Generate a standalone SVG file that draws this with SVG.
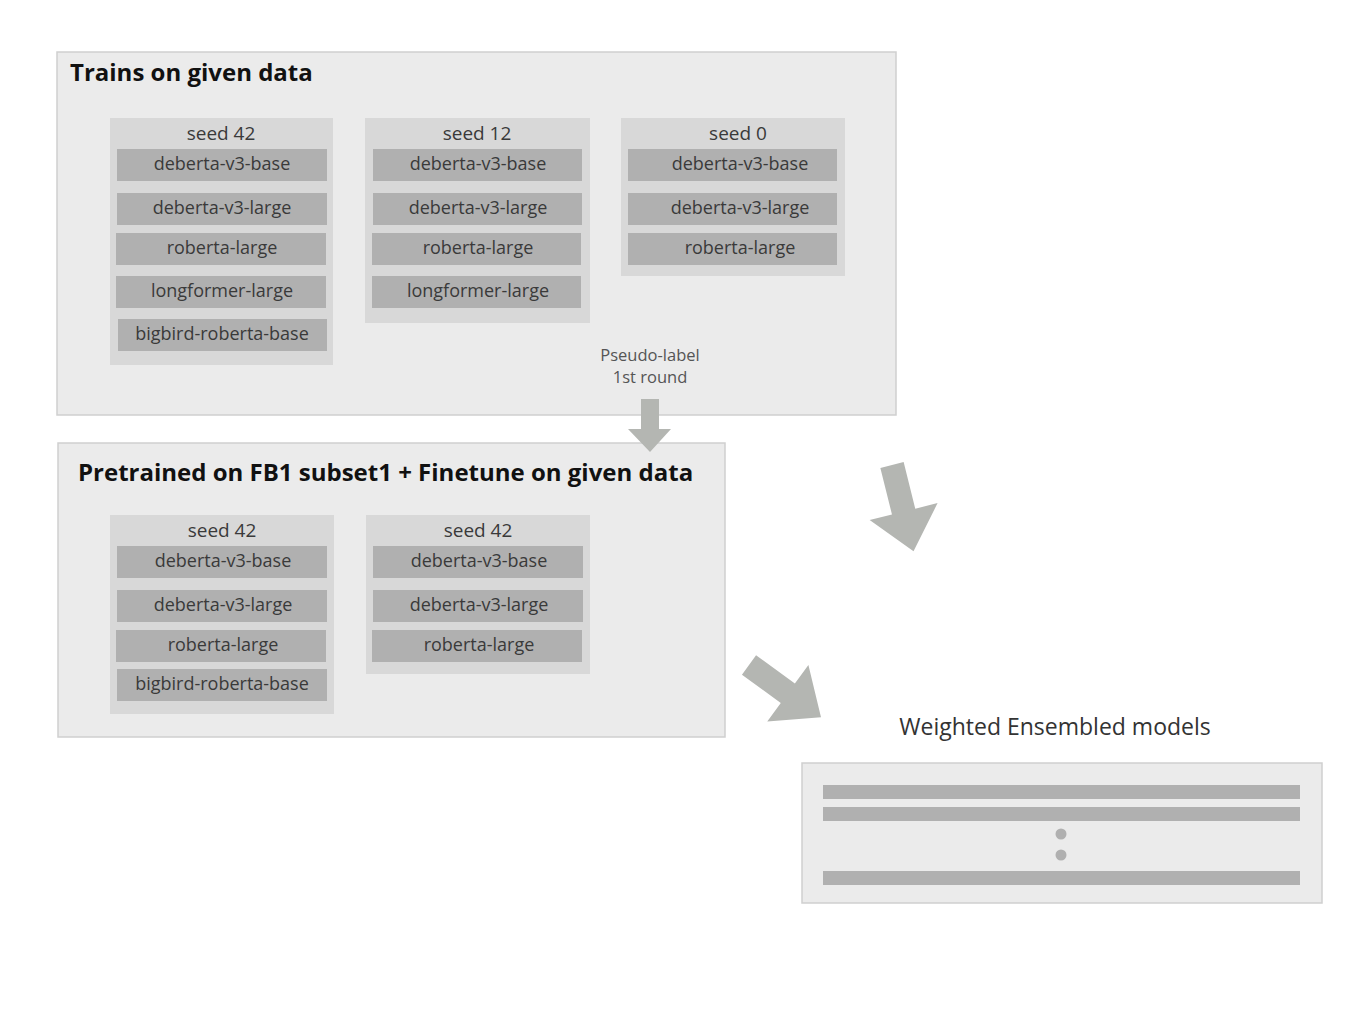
<svg xmlns="http://www.w3.org/2000/svg" width="1365" height="1024" viewBox="0 0 1365 1024">
<style>
.panel{fill:#ebebeb;stroke:#cfcfcf;stroke-width:1.5}
.seed{fill:#d8d8d8}
.item{fill:#b0b0b0}
.title{font-family:"Open Sans","Liberation Sans",sans-serif;font-weight:bold;font-size:24px;fill:#111}
.lbl{font-family:"Open Sans","Liberation Sans",sans-serif;font-size:18px;fill:#3a3a3a;text-anchor:middle}
.slbl{font-family:"Open Sans","Liberation Sans",sans-serif;font-size:19px;fill:#3a3a3a;text-anchor:middle}
.small{font-family:"Open Sans","Liberation Sans",sans-serif;font-size:16.5px;fill:#555;text-anchor:middle}
.arrow{fill:#b4b6b2}
</style>
<defs>
<polygon id="bigArrow" points="0,-12 48,-12 48,-35 89,0 48,35 48,12 0,12"/>
</defs>
<rect width="1365" height="1024" fill="#ffffff"/>

<g id="panel-train">
<rect class="panel" x="57" y="52" width="839" height="363"/>
<text class="title" x="70" y="81">Trains on given data</text>
</g>

<g id="train-seed42">
<rect class="seed" x="110" y="118" width="223" height="247"/>
<text class="slbl" x="221" y="140">seed 42</text>
<rect class="item" x="117" y="149" width="210" height="32"/>
<text class="lbl" x="222" y="170">deberta-v3-base</text>
<rect class="item" x="117" y="193" width="210" height="32"/>
<text class="lbl" x="222" y="214">deberta-v3-large</text>
<rect class="item" x="116" y="233" width="210" height="32"/>
<text class="lbl" x="222" y="254">roberta-large</text>
<rect class="item" x="116" y="276" width="210" height="32"/>
<text class="lbl" x="222" y="297">longformer-large</text>
<rect class="item" x="118" y="319" width="209" height="32"/>
<text class="lbl" x="222" y="340">bigbird-roberta-base</text>
</g>

<g id="train-seed12">
<rect class="seed" x="365" y="118" width="225" height="205"/>
<text class="slbl" x="477" y="140">seed 12</text>
<rect class="item" x="373" y="149" width="209" height="32"/>
<text class="lbl" x="478" y="170">deberta-v3-base</text>
<rect class="item" x="373" y="193" width="209" height="32"/>
<text class="lbl" x="478" y="214">deberta-v3-large</text>
<rect class="item" x="372" y="233" width="209" height="32"/>
<text class="lbl" x="478" y="254">roberta-large</text>
<rect class="item" x="372" y="276" width="209" height="32"/>
<text class="lbl" x="478" y="297">longformer-large</text>
</g>

<g id="train-seed0">
<rect class="seed" x="621" y="118" width="224" height="158"/>
<text class="slbl" x="738" y="140">seed 0</text>
<rect class="item" x="628" y="149" width="209" height="32"/>
<text class="lbl" x="740" y="170">deberta-v3-base</text>
<rect class="item" x="628" y="193" width="209" height="32"/>
<text class="lbl" x="740" y="214">deberta-v3-large</text>
<rect class="item" x="628" y="233" width="209" height="32"/>
<text class="lbl" x="740" y="254">roberta-large</text>
</g>

<g id="panel-pretrain">
<rect class="panel" x="58" y="443" width="667" height="294"/>
<text class="title" x="78" y="481">Pretrained on FB1 subset1 + Finetune on given data</text>
</g>

<g id="pre-seed42a">
<rect class="seed" x="110" y="515" width="224" height="199"/>
<text class="slbl" x="222" y="537">seed 42</text>
<rect class="item" x="117" y="546" width="210" height="32"/>
<text class="lbl" x="223" y="567">deberta-v3-base</text>
<rect class="item" x="117" y="590" width="210" height="32"/>
<text class="lbl" x="223" y="611">deberta-v3-large</text>
<rect class="item" x="116" y="630" width="210" height="32"/>
<text class="lbl" x="223" y="651">roberta-large</text>
<rect class="item" x="117" y="669" width="210" height="32"/>
<text class="lbl" x="222" y="690">bigbird-roberta-base</text>
</g>

<g id="pre-seed42b">
<rect class="seed" x="366" y="515" width="224" height="159"/>
<text class="slbl" x="478" y="537">seed 42</text>
<rect class="item" x="373" y="546" width="210" height="32"/>
<text class="lbl" x="479" y="567">deberta-v3-base</text>
<rect class="item" x="373" y="590" width="210" height="32"/>
<text class="lbl" x="479" y="611">deberta-v3-large</text>
<rect class="item" x="372" y="630" width="210" height="32"/>
<text class="lbl" x="479" y="651">roberta-large</text>
</g>

<g id="ensemble">
<text x="1055" y="735" font-family="'Open Sans','Liberation Sans',sans-serif" font-size="23" fill="#333" text-anchor="middle">Weighted Ensembled models</text>
<rect class="panel" x="802" y="763" width="520" height="140"/>
<rect class="item" x="823" y="785" width="477" height="14"/>
<rect class="item" x="823" y="807" width="477" height="14"/>
<circle cx="1061" cy="834" r="5.5" fill="#b0b0b0"/>
<circle cx="1061" cy="855" r="5.5" fill="#b0b0b0"/>
<rect class="item" x="823" y="871" width="477" height="14"/>
</g>

<g id="connectors">
<text class="small" x="650" y="361">Pseudo-label</text>
<text class="small" x="650" y="383">1st round</text>
<polygon class="arrow" points="641,399 659,399 659,429 671,429 650,452 628,429 641,429"/>
<use href="#bigArrow" class="arrow" transform="translate(892,465) rotate(76)"/>
<use href="#bigArrow" class="arrow" transform="translate(749,665) rotate(36)"/>
</g>
</svg>
